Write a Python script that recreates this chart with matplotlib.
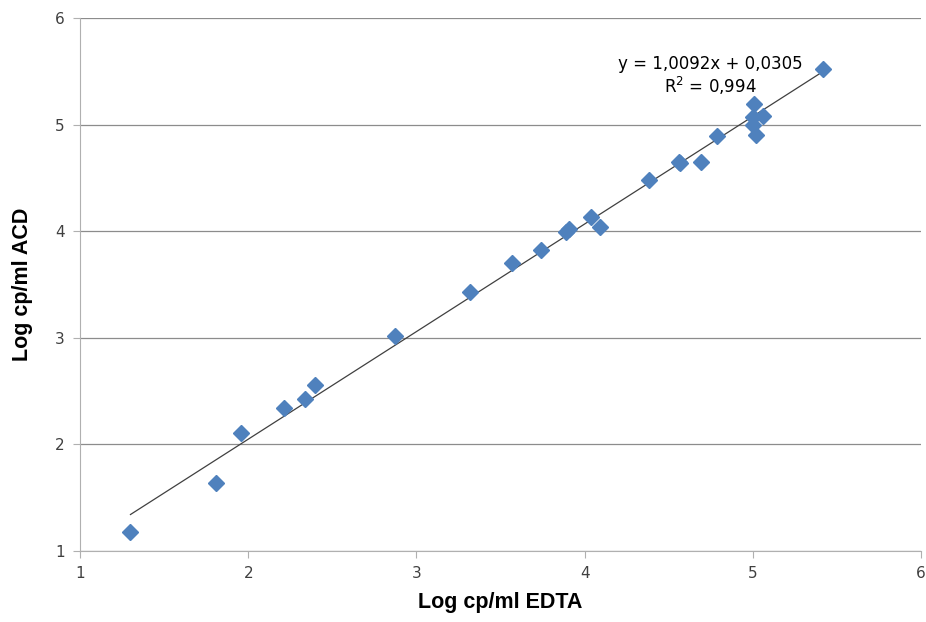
import matplotlib
matplotlib.use("Agg")
import matplotlib.pyplot as plt
import numpy as np

# data
edta = [1.30, 1.81, 1.96, 2.21, 2.34, 2.40, 2.87, 3.32, 3.57, 3.74,
        3.89, 3.91, 4.04, 4.09, 4.38, 4.56, 4.57, 4.69, 4.79, 5.01,
        5.00, 5.06, 5.00, 5.02, 5.42]
acd = [1.18, 1.64, 2.11, 2.34, 2.43, 2.56, 3.02, 3.43, 3.70, 3.82,
       3.99, 4.02, 4.13, 4.04, 4.48, 4.65, 4.64, 4.65, 4.89, 5.19,
       5.07, 5.08, 5.00, 4.90, 5.52]
slope = 1.0092
intercept = 0.0305
eq_text = "y = 1,0092x + 0,0305"
r2_text = "R$^2$ = 0,994"

fig = plt.figure(figsize=(9.26, 6.22), dpi=100)
ax = fig.add_axes([0.0864, 0.1141, 0.9082, 0.857])

ax.plot(edta, acd, linestyle="none", marker="D", ms=8.4,
        color="#4F81BD", markeredgecolor="#4F81BD", zorder=3)

xl = np.array([min(edta), max(edta)])
ax.plot(xl, slope * xl + intercept, color="#404040", lw=0.9, zorder=2)

ax.set_xlim(1, 6)
ax.set_ylim(1, 6)
ax.set_xticks(range(1, 7))
ax.set_yticks(range(1, 7))
ax.yaxis.grid(True, color="#8c8c8c", lw=0.9)
ax.set_axisbelow(True)

for s in ["top", "right"]:
    ax.spines[s].set_visible(False)
for s in ["left", "bottom"]:
    ax.spines[s].set_color("#b0b0b0")
ax.tick_params(colors="#b0b0b0", labelcolor="#404040", labelsize=11,
               length=5, direction="out", pad=6)

ax.set_xlabel("Log cp/ml EDTA", fontsize=15.5, fontweight="bold",
              family="Liberation Sans", labelpad=8)
ax.set_ylabel("Log cp/ml ACD", fontsize=15.5, fontweight="bold",
              family="Liberation Sans", labelpad=16)

ax.text(4.745, 5.57, eq_text, ha="center", va="center", fontsize=12,
        family="DejaVu Sans")
ax.text(4.745, 5.36, r2_text, ha="center", va="center", fontsize=12,
        family="DejaVu Sans")

fig.savefig("out.png", dpi=100)
